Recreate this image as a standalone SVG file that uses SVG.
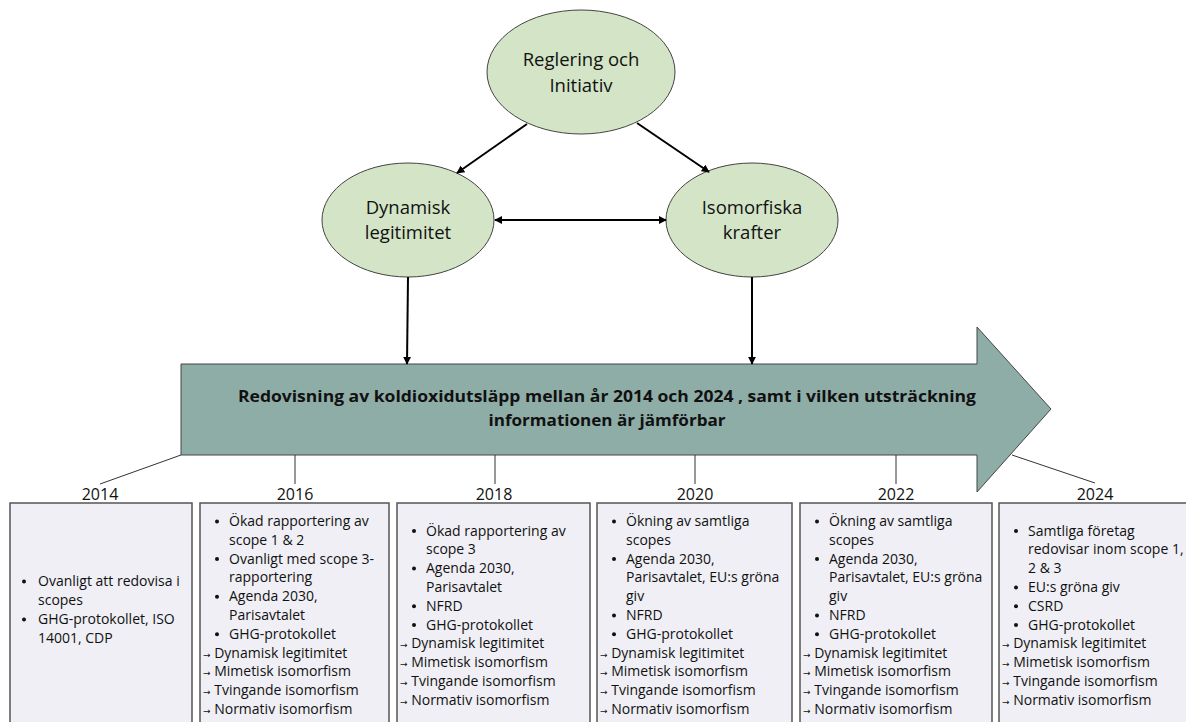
<svg xmlns="http://www.w3.org/2000/svg" width="1186" height="722" viewBox="0 0 1186 722">
<defs>
<marker id="ah" viewBox="0 0 10 10" refX="9" refY="5" markerWidth="4" markerHeight="4" orient="auto-start-reverse" markerUnits="strokeWidth">
<path d="M0,0 L10,5 L0,10 z" fill="#000"/>
</marker>
<style>
.ell{fill:#d3e5c6;stroke:#444;stroke-width:1}
.el{font-family:"Open Sans","Liberation Sans",sans-serif;font-size:18.5px;fill:#111;text-anchor:middle}
.con{stroke:#000;stroke-width:2;fill:none}
.tl{stroke:#333;stroke-width:1;fill:none}
.yr{font-family:"Open Sans","Liberation Sans",sans-serif;font-size:16px;fill:#111;text-anchor:middle}
.box{fill:#efeff5;stroke:#555;stroke-width:1.5}
.bt{font-family:"Open Sans","Liberation Sans",sans-serif;font-size:14px;fill:#111}
.bu{fill:#111}
.ar{font-family:"DejaVu Sans",sans-serif;font-size:9px}
.title{font-family:"Open Sans","Liberation Sans",sans-serif;font-size:16px;font-weight:bold;fill:#111;text-anchor:middle}
</style>
</defs>
<rect width="1186" height="722" fill="#fff"/>

<g id="node-reglering">
<ellipse class="ell" cx="581" cy="72" rx="94" ry="62"/>
<text class="el" x="581" y="66">Reglering och</text>
<text class="el" x="581" y="92">Initiativ</text>
</g>
<g id="node-dynamisk">
<ellipse class="ell" cx="408" cy="220" rx="86" ry="57"/>
<text class="el" x="408" y="214">Dynamisk</text>
<text class="el" x="408" y="239">legitimitet</text>
</g>
<g id="node-isomorfiska">
<ellipse class="ell" cx="752" cy="220" rx="86" ry="57"/>
<text class="el" x="752" y="214">Isomorfiska</text>
<text class="el" x="752" y="239">krafter</text>
</g>

<g id="node-timeline-arrow">
<polygon points="181,364 977,364 977,327 1051,409 977,492 977,455 181,455" fill="#8fada7" stroke="#444" stroke-width="1"/>
<text class="title" x="607" y="402" textLength="738" lengthAdjust="spacingAndGlyphs">Redovisning av koldioxidutsläpp mellan år 2014 och 2024 , samt i vilken utsträckning</text>
<text class="title" x="607" y="426" textLength="237" lengthAdjust="spacingAndGlyphs">informationen är jämförbar</text>
</g>

<g id="connectors">
<line class="con" x1="527" y1="124" x2="457" y2="173" marker-end="url(#ah)"/>
<line class="con" x1="637" y1="123" x2="709" y2="172" marker-end="url(#ah)"/>
<line class="con" x1="495" y1="220" x2="666" y2="220" marker-start="url(#ah)" marker-end="url(#ah)"/>
<line class="con" x1="408" y1="277" x2="407" y2="364" marker-end="url(#ah)"/>
<line class="con" x1="752" y1="277" x2="752" y2="364" marker-end="url(#ah)"/>
<line class="tl" x1="181" y1="455" x2="100" y2="484"/>
<line class="tl" x1="295" y1="455" x2="295" y2="484"/>
<line class="tl" x1="495" y1="455" x2="495" y2="484"/>
<line class="tl" x1="695" y1="455" x2="695" y2="484"/>
<line class="tl" x1="896" y1="455" x2="896" y2="484"/>
<line class="tl" x1="1012" y1="455" x2="1095" y2="483"/>
</g>

<g id="node-2014">
<text class="yr" x="100" y="500">2014</text>
<rect class="box" x="10" y="503" width="182" height="230"/>
<circle class="bu" cx="24" cy="581.5" r="2"/><text class="bt" x="38" y="586">Ovanligt att redovisa i</text>
<text class="bt" x="38" y="605">scopes</text>
<circle class="bu" cx="24" cy="619.5" r="2"/><text class="bt" x="38" y="624">GHG-protokollet, ISO</text>
<text class="bt" x="38" y="643">14001, CDP</text>
</g>

<g id="node-2016">
<text class="yr" x="295" y="500">2016</text>
<rect class="box" x="200" y="503" width="189" height="230"/>
<circle class="bu" cx="217" cy="521.5" r="2"/><text class="bt" x="229" y="526">Ökad rapportering av</text>
<text class="bt" x="229" y="544.8">scope 1 &amp; 2</text>
<circle class="bu" cx="217" cy="559.1" r="2"/><text class="bt" x="229" y="563.6">Ovanligt med scope 3-</text>
<text class="bt" x="229" y="582.4">rapportering</text>
<circle class="bu" cx="217" cy="596.7" r="2"/><text class="bt" x="229" y="601.2">Agenda 2030,</text>
<text class="bt" x="229" y="620">Parisavtalet</text>
<circle class="bu" cx="217" cy="634.3" r="2"/><text class="bt" x="229" y="638.8">GHG-protokollet</text>
<text class="bt" x="203" y="657.6"><tspan class="ar">→</tspan> Dynamisk legitimitet</text>
<text class="bt" x="203" y="676.4"><tspan class="ar">→</tspan> Mimetisk isomorfism</text>
<text class="bt" x="203" y="695.2"><tspan class="ar">→</tspan> Tvingande isomorfism</text>
<text class="bt" x="203" y="714"><tspan class="ar">→</tspan> Normativ isomorfism</text>
</g>

<g id="node-2018">
<text class="yr" x="494" y="500">2018</text>
<rect class="box" x="397" y="503" width="193" height="230"/>
<circle class="bu" cx="414" cy="531" r="2"/><text class="bt" x="426" y="535.5">Ökad rapportering av</text>
<text class="bt" x="426" y="554.3">scope 3</text>
<circle class="bu" cx="414" cy="568.6" r="2"/><text class="bt" x="426" y="573.1">Agenda 2030,</text>
<text class="bt" x="426" y="591.9">Parisavtalet</text>
<circle class="bu" cx="414" cy="606.2" r="2"/><text class="bt" x="426" y="610.7">NFRD</text>
<circle class="bu" cx="414" cy="625" r="2"/><text class="bt" x="426" y="629.5">GHG-protokollet</text>
<text class="bt" x="400" y="648.3"><tspan class="ar">→</tspan> Dynamisk legitimitet</text>
<text class="bt" x="400" y="667.1"><tspan class="ar">→</tspan> Mimetisk isomorfism</text>
<text class="bt" x="400" y="685.9"><tspan class="ar">→</tspan> Tvingande isomorfism</text>
<text class="bt" x="400" y="704.7"><tspan class="ar">→</tspan> Normativ isomorfism</text>
</g>

<g id="node-2020">
<text class="yr" x="695" y="500">2020</text>
<rect class="box" x="597" y="503" width="195" height="230"/>
<circle class="bu" cx="614" cy="521.5" r="2"/><text class="bt" x="626" y="526">Ökning av samtliga</text>
<text class="bt" x="626" y="544.8">scopes</text>
<circle class="bu" cx="614" cy="559.1" r="2"/><text class="bt" x="626" y="563.6">Agenda 2030,</text>
<text class="bt" x="626" y="582.4">Parisavtalet, EU:s gröna</text>
<text class="bt" x="626" y="601.2">giv</text>
<circle class="bu" cx="614" cy="615.5" r="2"/><text class="bt" x="626" y="620">NFRD</text>
<circle class="bu" cx="614" cy="634.3" r="2"/><text class="bt" x="626" y="638.8">GHG-protokollet</text>
<text class="bt" x="600" y="657.6"><tspan class="ar">→</tspan> Dynamisk legitimitet</text>
<text class="bt" x="600" y="676.4"><tspan class="ar">→</tspan> Mimetisk isomorfism</text>
<text class="bt" x="600" y="695.2"><tspan class="ar">→</tspan> Tvingande isomorfism</text>
<text class="bt" x="600" y="714"><tspan class="ar">→</tspan> Normativ isomorfism</text>
</g>

<g id="node-2022">
<text class="yr" x="896" y="500">2022</text>
<rect class="box" x="800" y="503" width="192" height="230"/>
<circle class="bu" cx="817" cy="521.5" r="2"/><text class="bt" x="829" y="526">Ökning av samtliga</text>
<text class="bt" x="829" y="544.8">scopes</text>
<circle class="bu" cx="817" cy="559.1" r="2"/><text class="bt" x="829" y="563.6">Agenda 2030,</text>
<text class="bt" x="829" y="582.4">Parisavtalet, EU:s gröna</text>
<text class="bt" x="829" y="601.2">giv</text>
<circle class="bu" cx="817" cy="615.5" r="2"/><text class="bt" x="829" y="620">NFRD</text>
<circle class="bu" cx="817" cy="634.3" r="2"/><text class="bt" x="829" y="638.8">GHG-protokollet</text>
<text class="bt" x="803" y="657.6"><tspan class="ar">→</tspan> Dynamisk legitimitet</text>
<text class="bt" x="803" y="676.4"><tspan class="ar">→</tspan> Mimetisk isomorfism</text>
<text class="bt" x="803" y="695.2"><tspan class="ar">→</tspan> Tvingande isomorfism</text>
<text class="bt" x="803" y="714"><tspan class="ar">→</tspan> Normativ isomorfism</text>
</g>

<g id="node-2024">
<text class="yr" x="1095" y="500">2024</text>
<rect class="box" x="999" y="503" width="195" height="230"/>
<circle class="bu" cx="1016" cy="531" r="2"/><text class="bt" x="1028" y="535.5">Samtliga företag</text>
<text class="bt" x="1028" y="554.3">redovisar inom scope 1,</text>
<text class="bt" x="1028" y="573.1">2 &amp; 3</text>
<circle class="bu" cx="1016" cy="587.4" r="2"/><text class="bt" x="1028" y="591.9">EU:s gröna giv</text>
<circle class="bu" cx="1016" cy="606.2" r="2"/><text class="bt" x="1028" y="610.7">CSRD</text>
<circle class="bu" cx="1016" cy="625" r="2"/><text class="bt" x="1028" y="629.5">GHG-protokollet</text>
<text class="bt" x="1002" y="648.3"><tspan class="ar">→</tspan> Dynamisk legitimitet</text>
<text class="bt" x="1002" y="667.1"><tspan class="ar">→</tspan> Mimetisk isomorfism</text>
<text class="bt" x="1002" y="685.9"><tspan class="ar">→</tspan> Tvingande isomorfism</text>
<text class="bt" x="1002" y="704.7"><tspan class="ar">→</tspan> Normativ isomorfism</text>
</g>
</svg>
